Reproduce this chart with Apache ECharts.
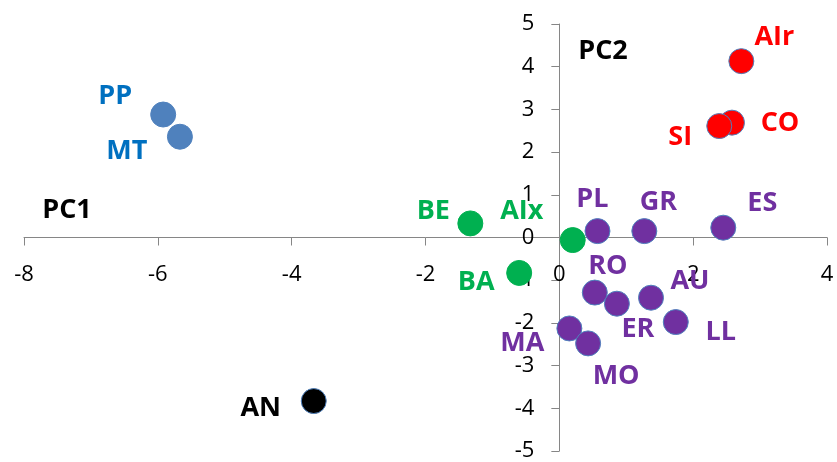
<!DOCTYPE html>
<html>
<head>
<meta charset="utf-8">
<script src="https://cdn.jsdelivr.net/npm/echarts@6/dist/echarts.min.js"></script>
<style>html,body{margin:0;padding:0;background:#fff}#c{width:837px;height:462px}</style>
</head>
<body>
<div id="c"></div>
<script>
// ---- data ----
const names  = ['PP','MT','AN','BE','AIx','BA','PL','GR','ES','AIr','CO','SI','RO','ER','AU','LL','MA','MO'];
const pc1    = [-5.92,-5.67,-3.67,-1.33,0.20,-0.60,0.57,1.27,2.45,2.72,2.58,2.39,0.53,0.86,1.37,1.74,0.15,0.43];
const pc2    = [2.88,2.36,-3.83,0.33,-0.06,-0.83,0.15,0.15,0.23,4.13,2.69,2.61,-1.29,-1.55,-1.41,-1.98,-2.13,-2.48];
const groups = ['blue','blue','black','green','green','green','purple','purple','purple','red','red','red','purple','purple','purple','purple','purple','purple'];
const groupOrder = ['blue','black','green','purple','red'];
const xTicks = [-8,-6,-4,-2,0,2,4];
const yTicks = [-5,-4,-3,-2,-1,0,1,2,3,4,5];
const axisNames = ['PC1','PC2'];

// ---- styles ----
const markerColor = {blue:'#4f81bd', black:'#000000', green:'#00b050', purple:'#7030a0', red:'#ff0000'};
const labelColor  = {blue:'#0070c0', black:'#000000', green:'#00b050', purple:'#7030a0', red:'#ff0000'};
const labelOffset = {
  PP:[-48,-18], MT:[-53,15], AN:[-53,7], BE:[-37,-12], AIx:[-51,-29], BA:[-43,9],
  PL:[-5,-32], GR:[14,-29], ES:[39,-24], AIr:[33,-24], CO:[48,1], SI:[-39,11],
  RO:[13,-26], ER:[21,26], AU:[39,-16], LL:[45,10], MA:[-47,15], MO:[28,33]
};
const FONT = '"Open Sans", sans-serif';
const LABEL_SIZE = 27;
const W = 837, H = 462;
const G = {left: 24, right: 10, top: 24, bottom: 11};
const xMin = xTicks[0], xMax = xTicks[xTicks.length-1];
const yMin = yTicks[0], yMax = yTicks[yTicks.length-1];
const gw = W - G.left - G.right, gh = H - G.top - G.bottom;
// shift axes so they cross at the origin (labels travel with them)
const yAxisShift = -gw * (0 - xMin) / (xMax - xMin);
const xAxisShift = -gh * (0 - yMin) / (yMax - yMin);

const series = groupOrder.map(g => ({
  type: 'scatter',
  symbol: 'circle',
  symbolSize: 25,
  itemStyle: {
    color: markerColor[g],
    opacity: 1,
    borderColor: g === 'green' ? markerColor[g] : '#4f81bd',
    borderWidth: 1
  },
  data: names.map((n, i) => ({n, i})).filter(o => groups[o.i] === g).map(o => ({
    name: o.n,
    value: [pc1[o.i], pc2[o.i]],
    label: {
      show: true,
      position: 'inside',
      offset: labelOffset[o.n],
      formatter: o.n,
      color: labelColor[g],
      fontFamily: FONT,
      fontWeight: 'bold',
      fontSize: LABEL_SIZE
    }
  }))
}));

const chart = echarts.init(document.getElementById('c'), null, {renderer: 'canvas'});
const axisLineStyle = {color: '#868686', width: 1};
chart.setOption({
  animation: false,
  grid: {left: G.left, right: G.right, top: G.top, bottom: G.bottom, containLabel: false, outerBoundsMode: 'none'},
  xAxis: {
    type: 'value', min: xMin, max: xMax, interval: 2,
    position: 'bottom', offset: xAxisShift,
    axisLine: {show: true, onZero: false, lineStyle: axisLineStyle},
    axisTick: {show: true, length: 8, lineStyle: axisLineStyle},
    splitLine: {show: false},
    axisLabel: {color: '#000', fontFamily: FONT, fontSize: 22, margin: 26, showMinLabel: true, showMaxLabel: true}
  },
  yAxis: {
    type: 'value', min: yMin, max: yMax, interval: 1,
    position: 'left', offset: yAxisShift,
    axisLine: {show: true, onZero: false, lineStyle: axisLineStyle},
    axisTick: {show: true, length: 8, lineStyle: axisLineStyle},
    splitLine: {show: false},
    axisLabel: {color: '#000', fontFamily: FONT, fontSize: 22, margin: 25, showMinLabel: true, showMaxLabel: true}
  },
  graphic: [
    {type: 'text', x: 67, y: 210, style: {text: axisNames[0], font: 'bold ' + LABEL_SIZE + 'px ' + FONT, fill: '#000', align: 'center', verticalAlign: 'middle'}},
    {type: 'text', x: 603, y: 51, style: {text: axisNames[1], font: 'bold ' + LABEL_SIZE + 'px ' + FONT, fill: '#000', align: 'center', verticalAlign: 'middle'}}
  ],
  series
});
</script>
</body>
</html>
